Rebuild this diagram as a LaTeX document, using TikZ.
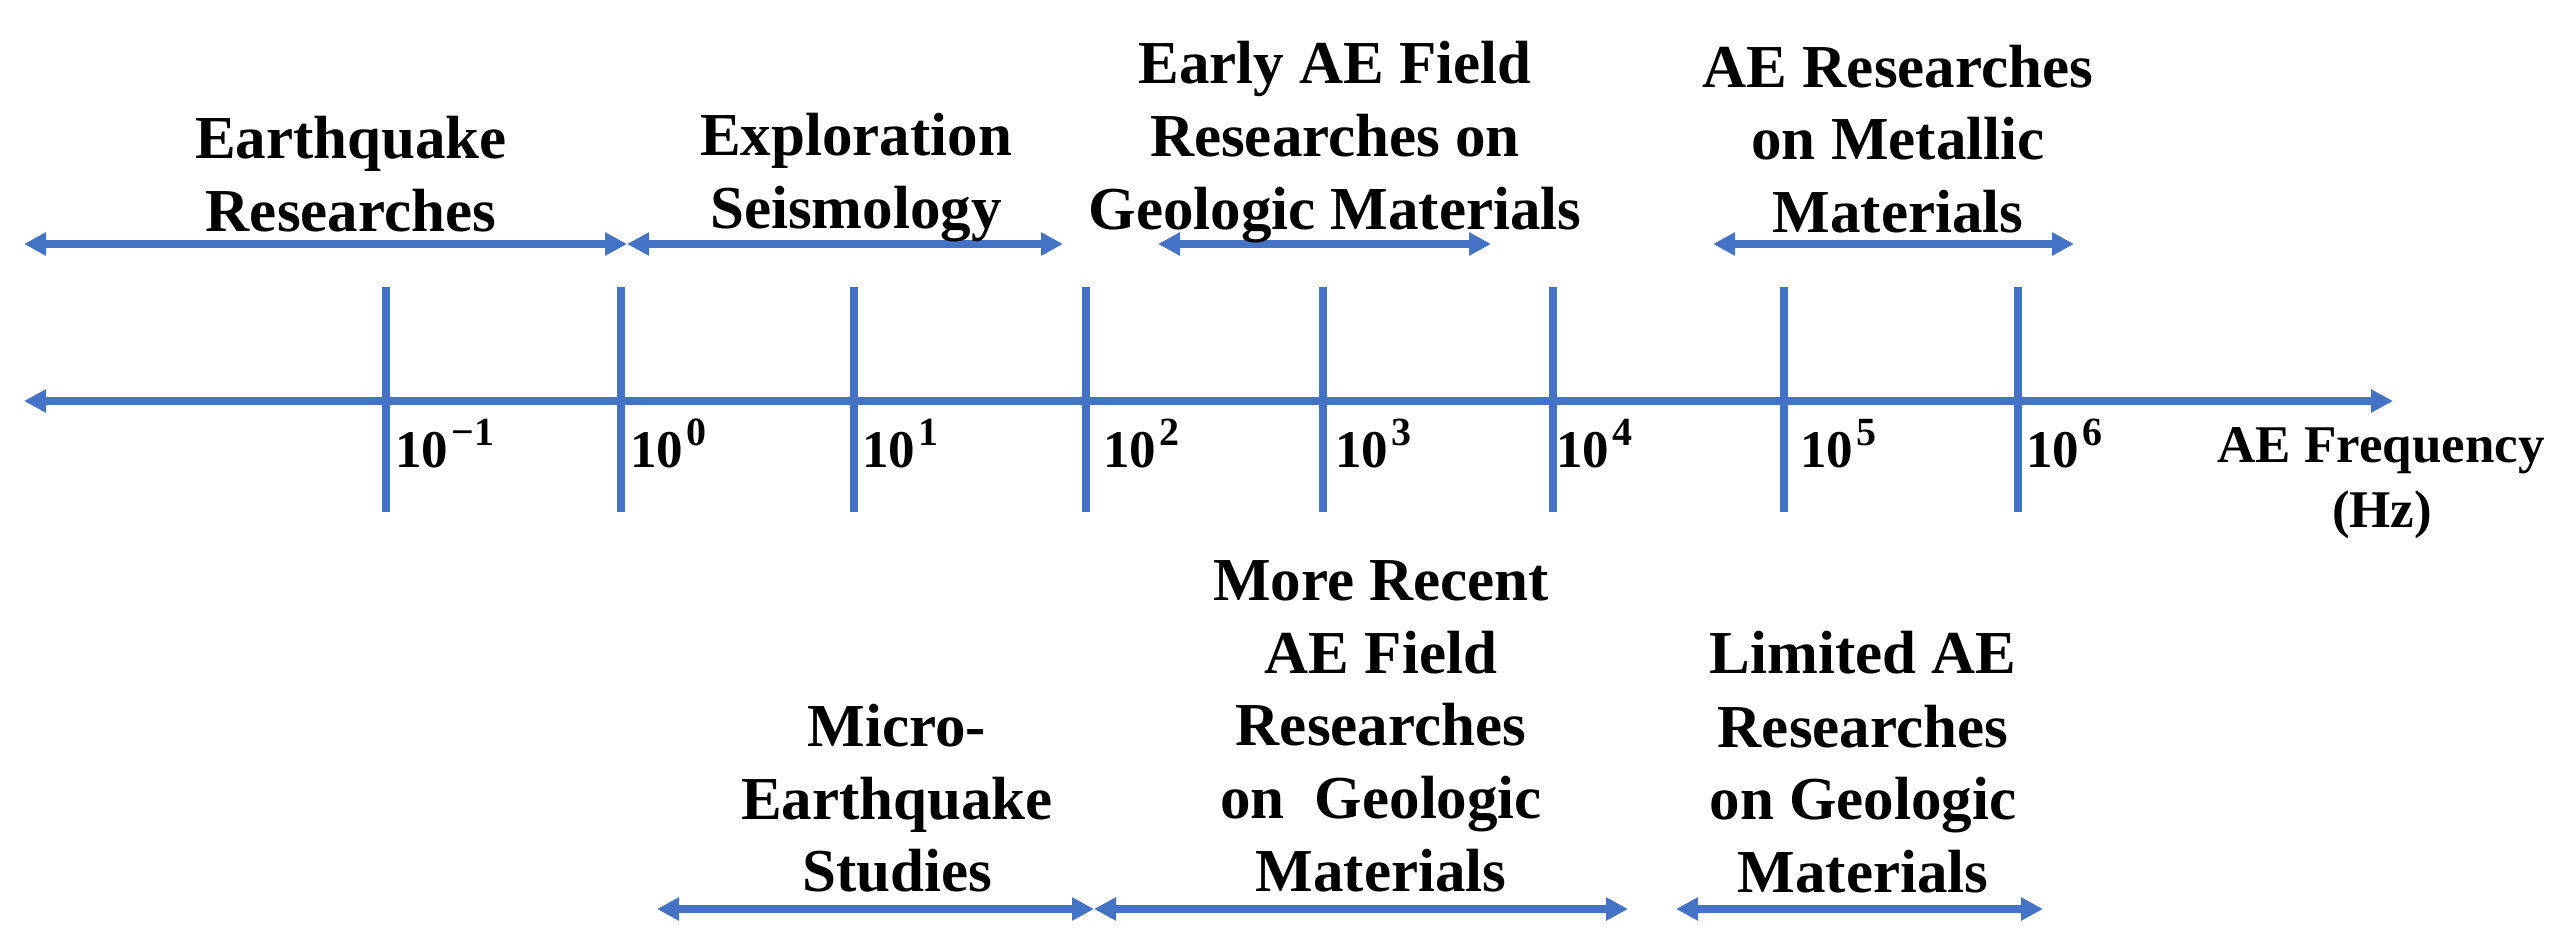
\documentclass[tikz,border=0pt]{standalone}
\usepackage{fontspec}
\setmainfont{Liberation Serif}
\usetikzlibrary{arrows.meta}
\definecolor{axisblue}{HTML}{4472C4}
\newcommand{\lblfont}{\fontsize{61}{73}\selectfont\bfseries}
\newcommand{\tickfont}{\fontsize{53}{64}\selectfont\bfseries}
\newcommand{\tkexp}[1]{10\kern3pt\raisebox{22pt}{\fontsize{40}{40}\selectfont\bfseries #1}}
\begin{document}
\begin{tikzpicture}[x=1pt,y=-1pt,
  blueline/.style={draw=axisblue,line width=7.5pt},
  span/.style={blueline,{Triangle[length=22pt,width=22pt]}-{Triangle[length=22pt,width=22pt]}},
  tickline/.style={draw=axisblue,line width=7.5pt},
  lab/.style={font=\lblfont,inner sep=0pt,anchor=base},
  ticklab/.style={font=\tickfont,inner sep=0pt,anchor=base west},
  axlab/.style={font=\tickfont,inner sep=0pt,anchor=base}]
\useasboundingbox (0,0) rectangle (2571,942);
% main axis
\coordinate (axL) at (24,401);
\coordinate (axR) at (2393,401);
\draw[span] (axL) -- (axR);
% ticks
\foreach \n/\x in {m1/386,p0/621,p1/854,p2/1086,p3/1323,p4/1553,p5/1784,p6/2018}{
  \coordinate (t\n top) at (\x,287);
  \coordinate (t\n bot) at (\x,512);
  \draw[tickline] (t\n top) -- (t\n bot);
}
% tick labels
\node[ticklab] (lm1) at (395,467) {\tkexp{\char"2212 1}};
\node[ticklab] (lp0) at (630,467) {\tkexp{0}};
\node[ticklab] (lp1) at (862,467) {\tkexp{1}};
\node[ticklab] (lp2) at (1103,467) {\tkexp{2}};
\node[ticklab] (lp3) at (1335,467) {\tkexp{3}};
\node[ticklab] (lp4) at (1556,467) {\tkexp{4}};
\node[ticklab] (lp5) at (1800,467) {\tkexp{5}};
\node[ticklab] (lp6) at (2026,467) {\tkexp{6}};
% axis label
\node[axlab] (freq1) at (2381,462) {AE Frequency};
\node[axlab] (freq2) at (2382,527) {(Hz)};
% top spans
\coordinate (eqL) at (24,244);
\coordinate (eqR) at (627,244);
\coordinate (exR) at (1063,244);
\coordinate (erL) at (1158,244);
\coordinate (erR) at (1491,244);
\coordinate (mtL) at (1713,244);
\coordinate (mtR) at (2074,244);
\draw[span] (eqL) -- (eqR);
\draw[span] (eqR) -- (exR);
\draw[span] (erL) -- (erR);
\draw[span] (mtL) -- (mtR);
% bottom spans
\coordinate (miL) at (657,909);
\coordinate (miR) at (1094,909);
\coordinate (rcR) at (1628,909);
\coordinate (liL) at (1676,909);
\coordinate (liR) at (2043,909);
\draw[span] (miL) -- (miR);
\draw[span] (miR) -- (rcR);
\draw[span] (liL) -- (liR);
% top labels
\node[lab] (eq1) at (351,158) {Earthquake};
\node[lab] (eq2) at (351,231) {Researches};
\node[lab] (ex1) at (856,155) {Exploration};
\node[lab] (ex2) at (856,228) {Seismology};
\node[lab] (er1) at (1335,83) {Early AE Field};
\node[lab] (er2) at (1335,156) {Researches on};
\node[lab] (er3) at (1335,229) {Geologic Materials};
\node[lab] (mt1) at (1898,87) {AE Researches};
\node[lab] (mt2) at (1898,159) {on Metallic};
\node[lab] (mt3) at (1898,232) {Materials};
% bottom labels
\node[lab] (mi1) at (897,746) {Micro-};
\node[lab] (mi2) at (897,819) {Earthquake};
\node[lab] (mi3) at (897,891) {Studies};
\node[lab] (rc1) at (1381,600) {More Recent};
\node[lab] (rc2) at (1381,673) {AE Field};
\node[lab] (rc3) at (1381,745) {Researches};
\node[lab] (rc4) at (1381,818) {on\ \ Geologic};
\node[lab] (rc5) at (1381,891) {Materials};
\node[lab] (li1) at (1863,673) {Limited AE};
\node[lab] (li2) at (1863,747) {Researches};
\node[lab] (li3) at (1863,819) {on Geologic};
\node[lab] (li4) at (1863,892) {Materials};
\end{tikzpicture}
\end{document}
